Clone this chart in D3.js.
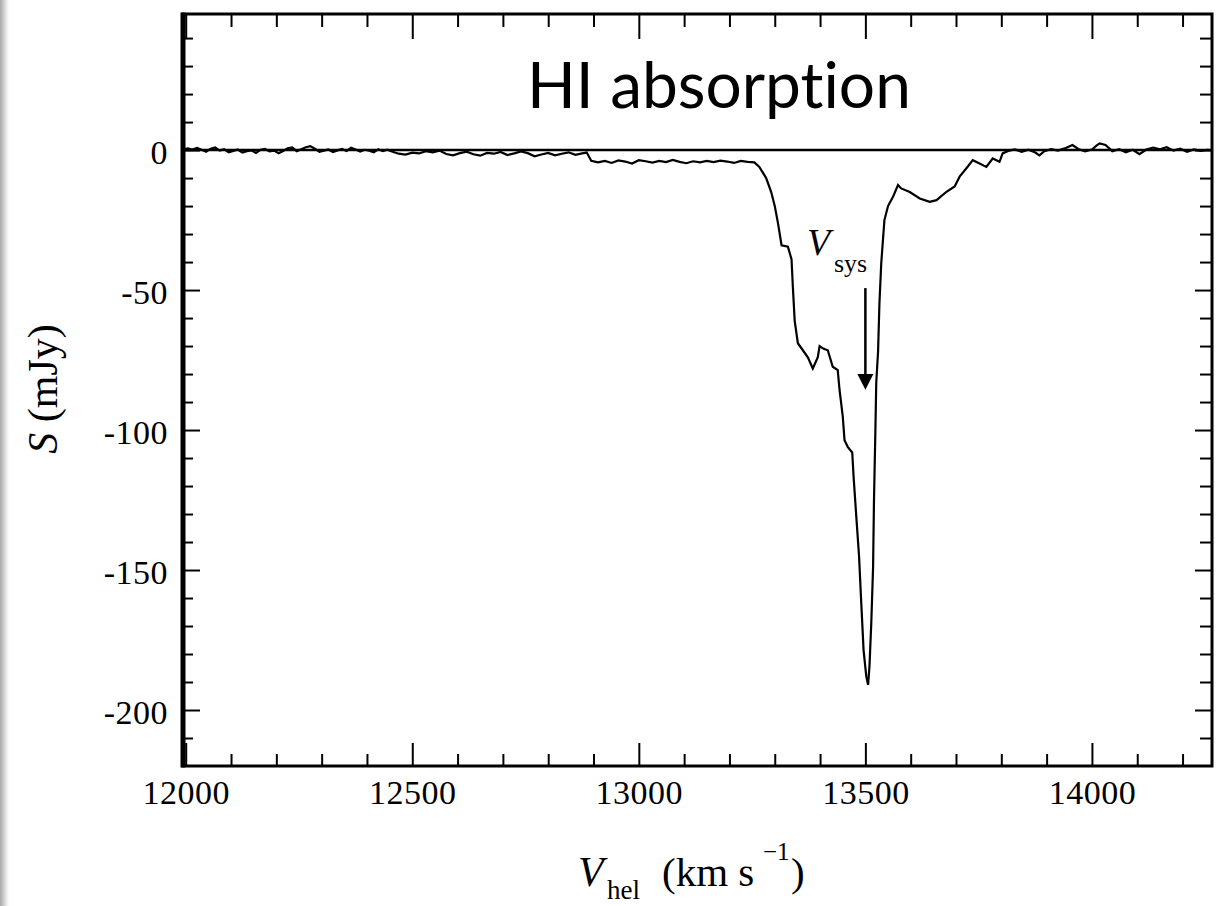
<!DOCTYPE html>
<html>
<head>
<meta charset="utf-8">
<script src="https://cdn.jsdelivr.net/npm/d3@7"></script>
<style>
  body { margin: 0; background: #fff; }
  svg { display: block; }
  .tick text { font-family: "Liberation Serif", "DejaVu Serif", serif; font-size: 34px; letter-spacing: 0.5px; fill: #000; }
</style>
</head>
<body>
<svg id="chart" width="1222" height="906"></svg>
<script>
// heliocentric velocity (km/s) and flux density (mJy)
var velocity = [
  11995, 12005, 12015, 12025, 12035, 12045, 12055, 12065, 12075, 12085, 12095,
  12105, 12115, 12125, 12135, 12145, 12155, 12165, 12175, 12185, 12195,
  12205, 12215, 12225, 12235, 12245, 12255, 12265, 12275, 12285, 12295,
  12305, 12315, 12325, 12335, 12345, 12355, 12365, 12375, 12385, 12395,
  12405, 12415, 12425, 12435, 12445,
  12455, 12470, 12485, 12500, 12515, 12530, 12545, 12560, 12575, 12590,
  12605, 12620, 12635, 12650, 12665, 12680, 12695, 12710, 12725, 12740,
  12755, 12770, 12785, 12800, 12815, 12830, 12845, 12860, 12875, 12885,
  12895, 12910, 12925, 12940, 12955, 12970, 12985, 13000, 13015, 13030,
  13045, 13060, 13075, 13090, 13105, 13120, 13135, 13150, 13165, 13180,
  13195, 13210, 13225, 13240, 13255,
  13266, 13281, 13292, 13300, 13307, 13315, 13329, 13337, 13340, 13344,
  13351, 13362, 13373, 13384, 13395, 13399, 13408, 13417, 13428, 13439,
  13443, 13450, 13454, 13461, 13471, 13474, 13480, 13486, 13491, 13496,
  13502, 13506, 13509, 13513, 13517, 13519, 13522, 13524, 13528, 13531,
  13535, 13542, 13550, 13561, 13572, 13579, 13598, 13620, 13642, 13657,
  13679, 13697, 13708, 13723, 13737, 13752, 13767, 13781, 13796, 13803,
  13815, 13830, 13845, 13860, 13875, 13884, 13895, 13910, 13925, 13940,
  13957, 13970, 13985, 14000, 14010, 14017, 14030, 14045, 14060, 14075,
  14090, 14105, 14120, 14135, 14150, 14165, 14180, 14195, 14210, 14225,
  14240, 14255, 14265
];
var flux = [
  0.3, 0.6, 0.2, 0.8, 0.1, -0.6, 0.5, 0.9, -0.2, 0.3, -0.8,
  -0.3, 0.2, -0.9, -0.4, -0.1, -1.0, 0.1, 0.4, -0.5, -0.2,
  -1.1, -0.3, 0.6, 0.9, -0.4, 0.3, 1.0, 1.4, 0.5, -0.6,
  -0.2, 0.2, -0.7, -0.1, 0.4, -0.3, 0.8, 0.2, -0.5, 0.1,
  -0.2, -0.8, 0.3, -0.4, 0.1,
  -0.5, -1.3, -1.6, -0.9, -1.2, -0.4, -0.8, -0.2, -1.4, -1.9,
  -1.1, -0.6, -1.5, -2.0, -1.0, -1.3, -0.7, -1.8, -1.2, -0.5,
  -1.1, -2.2, -1.6, -1.0, -1.9, -1.3, -0.8, -1.7, -1.2, -0.9,
  -3.8, -4.4, -3.9, -4.6, -3.7, -4.1, -4.8, -3.6, -4.0, -4.5,
  -3.9, -4.3, -3.5, -4.2, -4.7, -4.0, -4.4, -3.9, -4.3, -3.8,
  -4.1, -4.6, -3.9, -4.2, -4.4,
  -6, -10, -14.9, -20, -26, -34, -34.5, -39, -49, -61,
  -69, -71.5, -74, -78, -74, -70, -71, -71.5, -77.4, -78.6,
  -85.7, -95, -103.6, -106, -108, -116.7, -131, -145, -162, -178.6,
  -188, -191, -184.5, -169, -149, -125, -101, -83, -72, -54.8,
  -40.5, -25, -20, -16.7, -12.5, -13.7, -15, -17.3, -18.5, -17.9,
  -14.9, -13, -9.5, -6.5, -3.6, -4.8, -6, -3, -4.2, -1.2,
  -0.3, 0.2, -0.6, 0.1, -0.9, -1.9, -0.4, 0.3, -0.2, 0.6,
  1.8, 0.4, -0.5, 0.2, 1.6, 2.4, 1.8, -0.4, 0.3, -0.8,
  0.1, -1.5, 0.2, 0.9, 0.3, 1.0, -0.2, 0.5, -0.6, 0.2,
  -0.3, 0.1, 0
];
var xMajor = [12000, 12500, 13000, 13500, 14000];
var xMinor = [12100, 12200, 12300, 12400, 12600, 12700, 12800, 12900, 13100, 13200,
              13300, 13400, 13600, 13700, 13800, 13900, 14100, 14200];
var yMajor = [0, -50, -100, -150, -200];
var yMinor = [40, 30, 20, 10, -10, -20, -30, -40, -60, -70, -80, -90, -110, -120,
              -130, -140, -160, -170, -180, -190, -210];
var vSys = 13500;

var svg = d3.select("#chart"),
    plotL = 183, plotR = 1212, plotT = 14, plotB = 766;

var x = d3.scaleLinear().domain([11994, 14265]).range([plotL, plotR]);
var y = d3.scaleLinear().domain([-220, 48.6]).range([plotB, plotT]);

// faint grey edge on the left of the picture
var grad = svg.append("defs").append("linearGradient").attr("id", "edge");
grad.append("stop").attr("offset", "0%").attr("stop-color", "#a9a9a9");
grad.append("stop").attr("offset", "100%").attr("stop-color", "#ffffff");
svg.append("rect").attr("x", 0).attr("y", 0).attr("width", 9).attr("height", 906).attr("fill", "url(#edge)");

function noDomain(g) { g.select(".domain").remove(); g.selectAll(".tick line").attr("stroke", "#000").attr("stroke-width", 2); }

// bottom axis
svg.append("g").attr("transform", "translate(0," + plotB + ")")
    .call(d3.axisBottom(x).tickValues(xMajor).tickSize(-23).tickPadding(14).tickFormat(d3.format("d")))
    .call(noDomain);
svg.append("g").attr("transform", "translate(0," + plotB + ")")
    .call(d3.axisBottom(x).tickValues(xMinor).tickSize(-12).tickFormat(""))
    .call(noDomain);
// top axis
svg.append("g").attr("transform", "translate(0," + plotT + ")")
    .call(d3.axisTop(x).tickValues(xMajor).tickSize(-25).tickFormat(""))
    .call(noDomain);
svg.append("g").attr("transform", "translate(0," + plotT + ")")
    .call(d3.axisTop(x).tickValues(xMinor).tickSize(-13).tickFormat(""))
    .call(noDomain);
// left axis
var yl = svg.append("g").attr("transform", "translate(" + plotL + ",0)")
    .call(d3.axisLeft(y).tickValues(yMajor).tickSize(-17).tickPadding(15).tickFormat(d3.format("d")))
    .call(noDomain);
yl.selectAll("text").attr("dy", "0.4em").text(function(d) { return String(d); });
svg.append("g").attr("transform", "translate(" + plotL + ",0)")
    .call(d3.axisLeft(y).tickValues(yMinor).tickSize(-10).tickFormat(""))
    .call(noDomain);
// right axis
svg.append("g").attr("transform", "translate(" + plotR + ",0)")
    .call(d3.axisRight(y).tickValues(yMajor).tickSize(-17).tickFormat(""))
    .call(noDomain);
svg.append("g").attr("transform", "translate(" + plotR + ",0)")
    .call(d3.axisRight(y).tickValues(yMinor).tickSize(-12).tickFormat(""))
    .call(noDomain);

// frame
svg.append("rect").attr("x", plotL).attr("y", plotT)
    .attr("width", plotR - plotL).attr("height", plotB - plotT)
    .attr("fill", "none").attr("stroke", "#000").attr("stroke-width", 3);
svg.append("line").attr("x1", plotL).attr("x2", plotL).attr("y1", plotT - 1.5).attr("y2", plotB + 1.5)
    .attr("stroke", "#000").attr("stroke-width", 5);

// zero line
svg.append("line").attr("x1", plotL).attr("x2", plotR).attr("y1", y(0)).attr("y2", y(0))
    .attr("stroke", "#000").attr("stroke-width", 2.5);

// spectrum
var line = d3.line().x(function(d) { return x(d[0]); }).y(function(d) { return y(d[1]); });
svg.append("path")
    .datum(d3.zip(velocity, flux))
    .attr("fill", "none").attr("stroke", "#000").attr("stroke-width", 2.2)
    .attr("stroke-linejoin", "miter")
    .attr("d", line);

// systemic velocity arrow
svg.append("line").attr("x1", x(vSys)).attr("x2", x(vSys)).attr("y1", y(-49.3)).attr("y2", y(-80))
    .attr("stroke", "#000").attr("stroke-width", 2.5);
svg.append("path")
    .attr("d", "M" + (x(vSys) - 8) + "," + y(-80) + "L" + (x(vSys) + 8) + "," + y(-80) + "L" + x(vSys) + "," + y(-85.6) + "Z")
    .attr("fill", "#000");

var serif = "'Liberation Serif', 'DejaVu Serif', serif";
var vs = svg.append("text").attr("font-family", serif).attr("fill", "#000");
vs.append("tspan").attr("x", 807).attr("y", 255).attr("font-style", "italic").attr("font-size", 38).text("V");
vs.append("tspan").attr("x", 834).attr("y", 272).attr("font-size", 26).text("sys");

// title
svg.append("text").attr("x", 527).attr("y", 108)
    .attr("font-family", "Lato, 'Open Sans', sans-serif").attr("font-size", 64)
    .style("font-variant-ligatures", "none")
    .attr("fill", "#000").text("HI absorption");

// y axis title
var yt = svg.append("text").attr("transform", "translate(57,389) rotate(-90)")
    .attr("text-anchor", "middle").attr("font-family", serif).attr("font-size", 42).attr("fill", "#000");
yt.append("tspan").attr("font-style", "italic").text("S");
yt.append("tspan").text(" (mJy)");

// x axis title
var xt = svg.append("text").attr("font-family", serif).attr("fill", "#000");
xt.append("tspan").attr("x", 578).attr("y", 886).attr("font-style", "italic").attr("font-size", 42).text("V");
xt.append("tspan").attr("x", 607).attr("y", 899).attr("font-size", 27).text("hel");
xt.append("tspan").attr("x", 662).attr("y", 886).attr("font-size", 41).text("(km s");
xt.append("tspan").attr("x", 763).attr("y", 860).attr("font-size", 25).text("\u22121");
xt.append("tspan").attr("x", 791).attr("y", 886).attr("font-size", 41).text(")");
</script>
</body>
</html>
